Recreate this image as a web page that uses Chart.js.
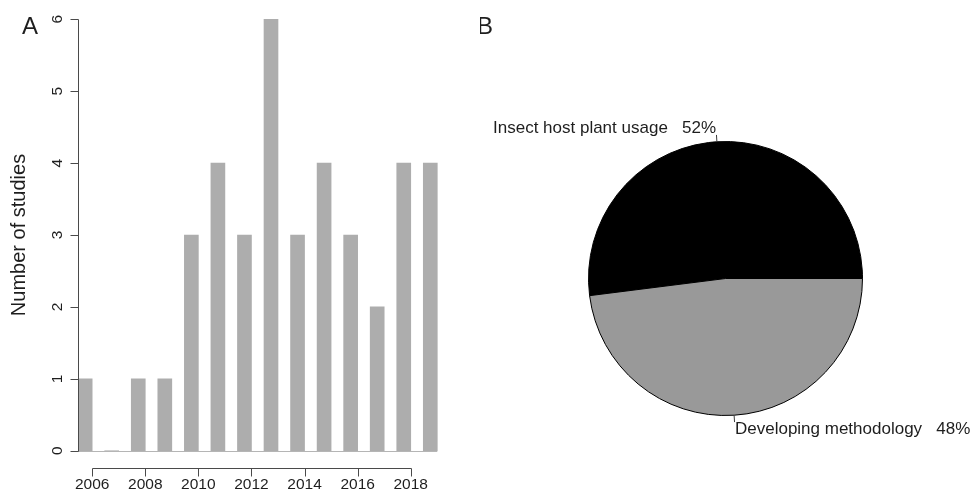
<!DOCTYPE html>
<html>
<head>
<meta charset="utf-8">
<script src="https://cdn.jsdelivr.net/npm/chart.js@4/dist/chart.umd.min.js"></script>
<style>
  html, body { margin: 0; padding: 0; background: #ffffff; }
  #wrap { position: relative; width: 974px; height: 500px; overflow: hidden; }
  #barBox { position: absolute; left: 0; top: 0; width: 480px; height: 500px; }
  #pieBox { position: absolute; left: 480px; top: 0; width: 494px; height: 500px; }
</style>
</head>
<body>
<div id="wrap">
  <div id="barBox"><canvas id="bar" width="480" height="500"></canvas></div>
  <div id="pieBox"><canvas id="pie" width="494" height="500"></canvas></div>
</div>
<script>
// ---- data ----
const years = [2006, 2007, 2008, 2009, 2010, 2011, 2012, 2013, 2014, 2015, 2016, 2017, 2018, 2019];
const studies = [1, 0, 1, 1, 3, 4, 3, 6, 3, 4, 3, 2, 4, 4];
const yTickValues = [0, 1, 2, 3, 4, 5, 6];
const xTickLabels = [2006, 2008, 2010, 2012, 2014, 2016, 2018];
const yAxisTitle = 'Number of studies';
const pieLabels = ['Insect host plant usage', 'Developing methodology'];
const pieShares = [52, 48];
const panelA = 'A';
const panelB = 'B';

// ---- styles ----
const FONT = '"Liberation Sans", Arial, Helvetica, sans-serif';
const BAR_W = 14;
const BAR_COLOR = '#adadad';
const AXIS_COLOR = '#4a4a4a';
const TEXT_COLOR = '#1e1e1e';
const PIE_COLORS = ['#000000', '#999999'];

Chart.defaults.font.family = FONT;

// R-style axes for panel A
const rAxesPlugin = {
  id: 'rAxes',
  afterDraw(chart) {
    const ctx = chart.ctx;
    const xs = chart.scales.x, ys = chart.scales.y, ca = chart.chartArea;
    ctx.save();
    // baseline along zero
    const y0 = Math.round(ys.getPixelForValue(0)) + 0.5;
    ctx.strokeStyle = '#b5b5b5';
    ctx.lineWidth = 1;
    ctx.beginPath();
    ctx.moveTo(xs.getPixelForValue(years[0]) - BAR_W / 2, y0);
    ctx.lineTo(xs.getPixelForValue(years[years.length - 1]) + BAR_W / 2, y0);
    ctx.stroke();

    // y axis
    ctx.strokeStyle = AXIS_COLOR;
    const ax = Math.round(ca.left) + 0.5;
    const yTop = ys.getPixelForValue(yTickValues[yTickValues.length - 1]);
    const yBot = ys.getPixelForValue(yTickValues[0]);
    ctx.beginPath();
    ctx.moveTo(ax, Math.round(yTop) + 0.5);
    ctx.lineTo(ax, Math.round(yBot) + 0.5);
    yTickValues.forEach(v => {
      const py = Math.round(ys.getPixelForValue(v)) + 0.5;
      ctx.moveTo(ax, py);
      ctx.lineTo(ax - 8, py);
    });
    ctx.stroke();
    ctx.fillStyle = TEXT_COLOR;
    ctx.font = '15.5px ' + FONT;
    ctx.textAlign = 'center';
    ctx.textBaseline = 'alphabetic';
    yTickValues.forEach(v => {
      const py = ys.getPixelForValue(v);
      ctx.save();
      ctx.translate(ax - 17, py);
      ctx.rotate(-Math.PI / 2);
      ctx.fillText(String(v), 0, 0);
      ctx.restore();
    });
    // y title
    ctx.font = '20px ' + FONT;
    ctx.save();
    ctx.translate(25, (ca.top + ca.bottom) / 2);
    ctx.rotate(-Math.PI / 2);
    ctx.fillText(yAxisTitle, 0, 0);
    ctx.restore();

    // x axis (ticks at the right edge of each labelled year's bar)
    const by = Math.round(ca.bottom) + 0.5;
    const tx = xTickLabels.map(yr => xs.getPixelForValue(yr) + BAR_W / 2);
    ctx.beginPath();
    ctx.moveTo(Math.round(tx[0]) + 0.5, by);
    ctx.lineTo(Math.round(tx[tx.length - 1]) + 0.5, by);
    tx.forEach(px => {
      ctx.moveTo(Math.round(px) + 0.5, by);
      ctx.lineTo(Math.round(px) + 0.5, by + 8);
    });
    ctx.stroke();
    ctx.font = '15.5px ' + FONT;
    ctx.textAlign = 'center';
    ctx.textBaseline = 'alphabetic';
    xTickLabels.forEach((yr, i) => ctx.fillText(String(yr), tx[i], by + 20.5));

    // panel letter
    ctx.font = '24px ' + FONT;
    ctx.textBaseline = 'middle';
    ctx.fillText(panelA, 30, 27);
    ctx.restore();
  }
};

new Chart(document.getElementById('bar'), {
  type: 'bar',
  data: {
    datasets: [{
      data: years.map((yr, i) => ({ x: yr, y: studies[i] })),
      backgroundColor: BAR_COLOR,
      borderWidth: 0,
      barThickness: BAR_W
    }]
  },
  options: {
    responsive: false,
    animation: false,
    devicePixelRatio: 1,
    layout: { padding: { left: 78, right: 29, top: 2, bottom: 32 } },
    plugins: { legend: { display: false }, tooltip: { enabled: false } },
    scales: {
      x: { type: 'linear', min: years[0] - 0.27, max: years[years.length - 1] + 0.78, display: false, offset: false },
      y: { type: 'linear', min: -0.24, max: 6.24, display: false }
    }
  },
  plugins: [rAxesPlugin]
});

// Pie labels, R style
const pieLabelPlugin = {
  id: 'pieLabels',
  afterDraw(chart) {
    const ctx = chart.ctx;
    const meta = chart.getDatasetMeta(0);
    ctx.save();
    ctx.font = '17px ' + FONT;
    ctx.fillStyle = TEXT_COLOR;
    ctx.strokeStyle = '#3a3a3a';
    ctx.lineWidth = 1;
    ctx.textBaseline = 'middle';
    meta.data.forEach((arc, i) => {
      const p = arc.getProps(['x', 'y', 'startAngle', 'endAngle', 'outerRadius'], true);
      const mid = (p.startAngle + p.endAngle) / 2;
      const c = Math.cos(mid), s = Math.sin(mid);
      const r = p.outerRadius;
      ctx.beginPath();
      ctx.moveTo(p.x + r * c, p.y + r * s);
      ctx.lineTo(p.x + 1.05 * r * c, p.y + 1.05 * r * s);
      ctx.stroke();
      ctx.textAlign = c < 0 ? 'right' : 'left';
      ctx.fillText(pieLabels[i] + '   ' + pieShares[i] + '%', p.x + 1.1 * r * c, p.y + 1.1 * r * s);
    });
    ctx.font = '24px ' + FONT;
    ctx.textAlign = 'center';
    ctx.fillText(panelB, 5, 27);
    ctx.restore();
  }
};

const totalShare = pieShares.reduce((a, b) => a + b, 0);
new Chart(document.getElementById('pie'), {
  type: 'pie',
  data: {
    labels: pieLabels,
    datasets: [{
      data: pieShares,
      backgroundColor: PIE_COLORS,
      borderColor: '#000000',
      borderWidth: 1
    }]
  },
  options: {
    responsive: false,
    animation: false,
    devicePixelRatio: 1,
    // R pie: starts at 3 o'clock, counter-clockwise
    rotation: 90 - (pieShares[0] / totalShare) * 360,
    layout: { padding: { left: 108, right: 111, top: 141, bottom: 84 } },
    plugins: { legend: { display: false }, tooltip: { enabled: false } }
  },
  plugins: [pieLabelPlugin]
});
</script>
</body>
</html>
